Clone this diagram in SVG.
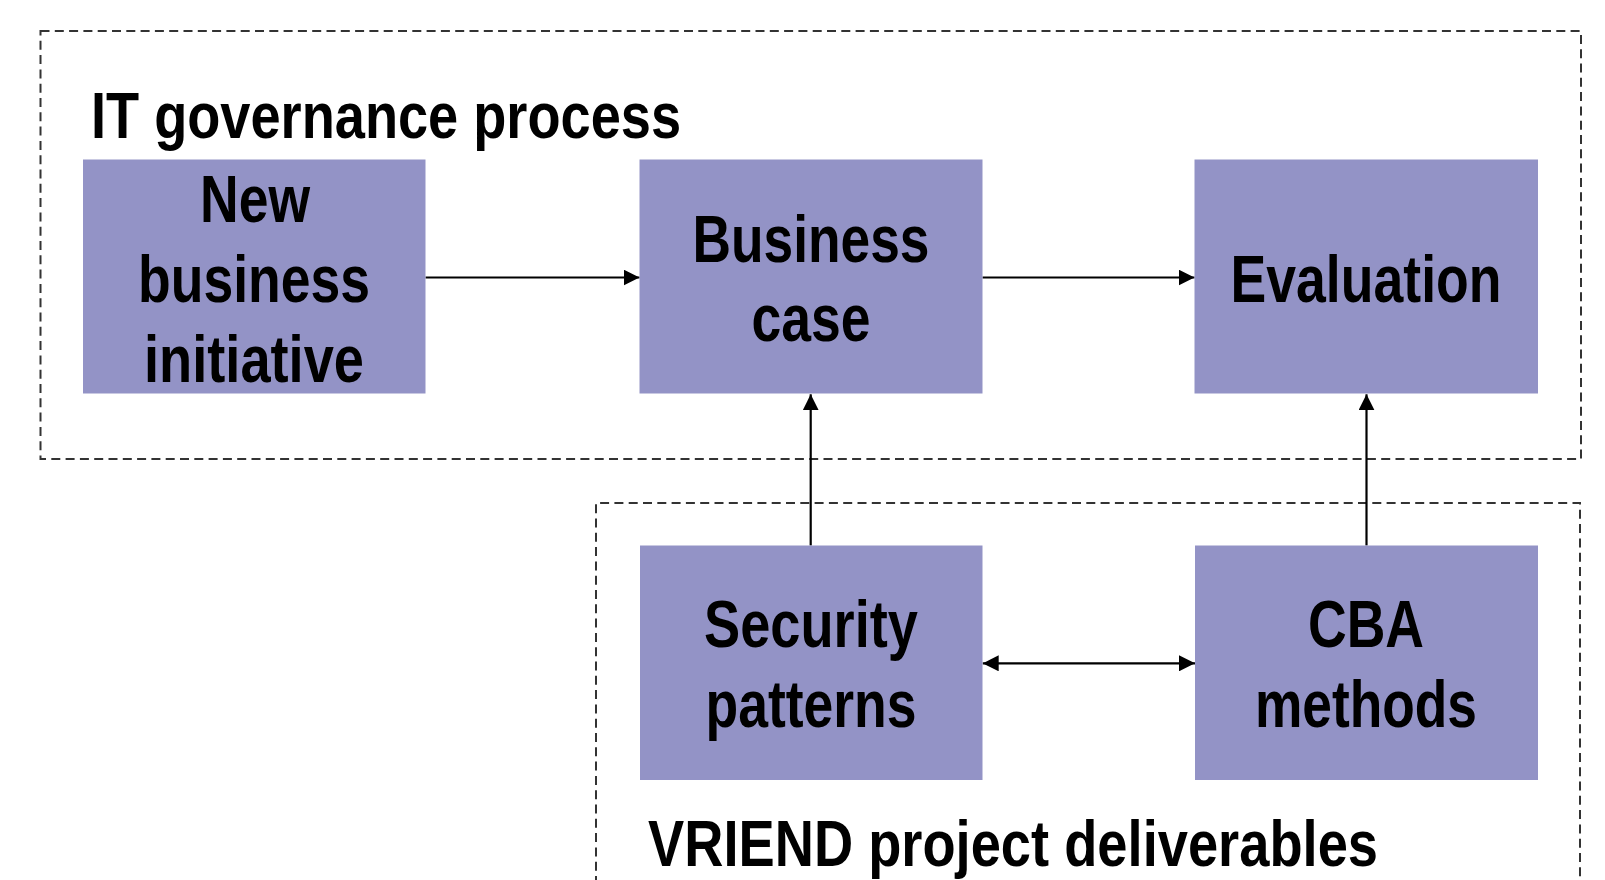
<svg xmlns="http://www.w3.org/2000/svg" width="1605" height="880" viewBox="0 0 1605 880">
  <style>
    .frame { fill: none; stroke: #333; stroke-width: 2; stroke-dasharray: 9 5.3; }
    .box { fill: #9393c6; }
    .lbl { font-family: "Liberation Sans Narrow", "Liberation Sans", Arial, sans-serif; font-weight: bold; font-size: 66px; fill: #000; text-anchor: middle; }
    .title { font-family: "Liberation Sans Narrow", "Liberation Sans", Arial, sans-serif; font-weight: bold; font-size: 64px; fill: #000; }
    .link { fill: none; stroke: #000; stroke-width: 2.2; }
  </style>
  <defs>
    <marker id="arrow" viewBox="0 0 16 16" refX="16" refY="8" markerWidth="16" markerHeight="16" markerUnits="userSpaceOnUse" orient="auto-start-reverse">
      <path d="M0,0 L16,8 L0,16 z" fill="#000"/>
    </marker>
  </defs>
  <rect width="1605" height="880" fill="#fff"/>

  <!-- process frames -->
  <g id="frame-governance">
    <rect class="frame" x="40.5" y="31" width="1540.5" height="428"/>
    <text class="title" x="91" y="138" textLength="590" lengthAdjust="spacingAndGlyphs">IT governance process</text>
  </g>
  <g id="frame-vriend">
    <path class="frame" d="M596,885 L596,503 L1580,503 L1580,885"/>
    <text class="title" x="648" y="866" textLength="730" lengthAdjust="spacingAndGlyphs">VRIEND project deliverables</text>
  </g>

  <!-- connectors -->
  <g id="connectors">
    <line class="link" x1="425.5" y1="277.5" x2="639.5" y2="277.5" marker-end="url(#arrow)"/>
    <line class="link" x1="982.5" y1="277.5" x2="1194.5" y2="277.5" marker-end="url(#arrow)"/>
    <line class="link" x1="810.7" y1="545.5" x2="810.7" y2="394.3" marker-end="url(#arrow)"/>
    <line class="link" x1="1366.5" y1="545.5" x2="1366.5" y2="394.3" marker-end="url(#arrow)"/>
    <line class="link" x1="982.7" y1="663.3" x2="1195" y2="663.3" marker-start="url(#arrow)" marker-end="url(#arrow)"/>
  </g>

  <!-- nodes -->
  <g id="node-initiative">
    <rect class="box" x="83" y="159.5" width="342.5" height="234"/>
    <text class="lbl" x="255" y="222" textLength="110" lengthAdjust="spacingAndGlyphs">New</text>
    <text class="lbl" x="254" y="302" textLength="232" lengthAdjust="spacingAndGlyphs">business</text>
    <text class="lbl" x="254" y="382" textLength="220" lengthAdjust="spacingAndGlyphs">initiative</text>
  </g>
  <g id="node-business-case">
    <rect class="box" x="639.5" y="159.5" width="343" height="234"/>
    <text class="lbl" x="811" y="262" textLength="237" lengthAdjust="spacingAndGlyphs">Business</text>
    <text class="lbl" x="811" y="341" textLength="119" lengthAdjust="spacingAndGlyphs">case</text>
  </g>
  <g id="node-evaluation">
    <rect class="box" x="1194.5" y="159.5" width="343.5" height="234"/>
    <text class="lbl" x="1366" y="302" textLength="271" lengthAdjust="spacingAndGlyphs">Evaluation</text>
  </g>
  <g id="node-security-patterns">
    <rect class="box" x="640" y="545.5" width="342.5" height="234.5"/>
    <text class="lbl" x="811" y="647" textLength="214" lengthAdjust="spacingAndGlyphs">Security</text>
    <text class="lbl" x="811" y="727" textLength="211" lengthAdjust="spacingAndGlyphs">patterns</text>
  </g>
  <g id="node-cba-methods">
    <rect class="box" x="1195" y="545.5" width="343" height="234.5"/>
    <text class="lbl" x="1366" y="647" textLength="116" lengthAdjust="spacingAndGlyphs">CBA</text>
    <text class="lbl" x="1366" y="727" textLength="222" lengthAdjust="spacingAndGlyphs">methods</text>
  </g>
</svg>
